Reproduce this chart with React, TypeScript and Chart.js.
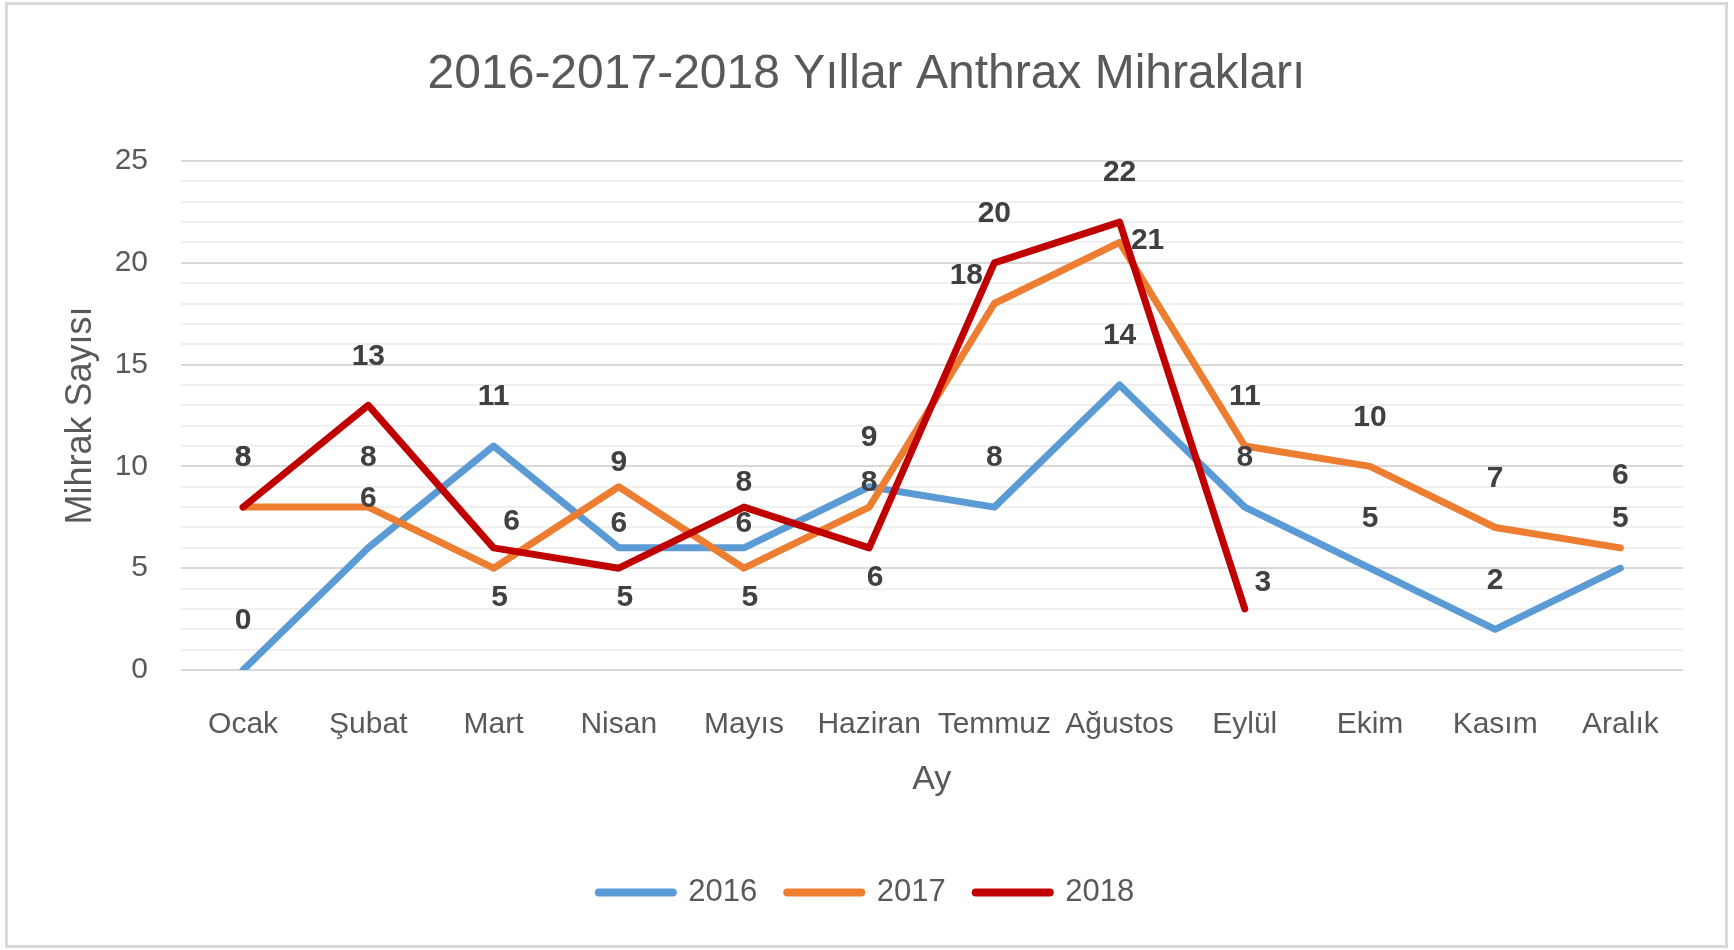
import React, { useEffect, useRef } from "react";
import { Chart, registerables } from "chart.js";

Chart.register(...registerables);

const FONT = "'Liberation Sans', Arial, sans-serif";

const months = ["Ocak", "Şubat", "Mart", "Nisan", "Mayıs", "Haziran", "Temmuz", "Ağustos", "Eylül", "Ekim", "Kasım", "Aralık"];
const values2016 = [0, 6, 11, 6, 6, 9, 8, 14, 8, 5, 2, 5];
const values2017 = [8, 8, 5, 9, 5, 8, 18, 21, 11, 10, 7, 6];
const values2018 = [8, 13, 6, 5, 8, 6, 20, 22, 3, null, null, null];
const seriesNames = ["2016", "2017", "2018"];
const seriesColors = ["#5B9BD5", "#ED7D31", "#C00000"];
const yTickLabels = [0, 5, 10, 15, 20, 25];

// data-label placement codes (T: above, t: just above, b: below, L: upper-left, R: right, r: upper-right, U: high above)
const labelPos2016 = ["T", "T", "T", "t", "t", "T", "T", "T", "T", "T", "T", "T"];
const labelPos2017 = ["T", "T", "b", "t", "b", "t", "L", "R", "T", "T", "T", "U"];
const labelPos2018 = ["T", "T", "r", "b", "t", "b", "T", "T", "r"];

const OFFSETS: Record<string, [number, number]> = {
  T: [0, -49],
  t: [0, -24],
  b: [6, 30],
  L: [-28, -28],
  R: [28, -2],
  r: [18, -26],
  U: [0, -72],
};

const placements = [labelPos2016, labelPos2017, labelPos2018];

const dataLabelPlugin = {
  id: "dataLabels",
  afterDatasetsDraw(chart: any) {
    const ctx = chart.ctx;
    ctx.save();
    ctx.font = `bold 30px ${FONT}`;
    ctx.fillStyle = "#404040";
    ctx.textAlign = "center";
    ctx.textBaseline = "middle";
    chart.data.datasets.forEach((ds: any, i: number) => {
      const meta = chart.getDatasetMeta(i);
      const pos = placements[i];
      meta.data.forEach((pt: any, j: number) => {
        const v = ds.data[j];
        if (v === null || v === undefined) return;
        const [dx, dy] = OFFSETS[pos[j]] || OFFSETS.T;
        ctx.fillText(String(v), pt.x + dx, pt.y + dy);
      });
    });
    ctx.restore();
  },
};

export default function App() {
  const canvasRef = useRef<HTMLCanvasElement | null>(null);

  useEffect(() => {
    if (!canvasRef.current) return;
    const seriesValues = [values2016, values2017, values2018];
    const defaultLabels = (Chart.defaults as any).plugins.legend.labels.generateLabels;
    const chart = new Chart(canvasRef.current, {
      type: "line",
      data: {
        labels: months,
        datasets: seriesNames.map((name, i) => ({
          label: name,
          data: seriesValues[i],
          borderColor: seriesColors[i],
          backgroundColor: seriesColors[i],
          borderWidth: 7,
          pointRadius: 0,
          pointHoverRadius: 0,
          borderCapStyle: "round",
          borderJoinStyle: "round",
          tension: 0,
          spanGaps: false,
          order: seriesNames.length - i,
        })),
      },
      options: {
        responsive: false,
        animation: false,
        events: [],
        layout: { padding: { left: 0, right: 0, top: 0, bottom: 27 } },
        plugins: {
          tooltip: { enabled: false },
          title: {
            display: true,
            text: "2016-2017-2018 Yıllar Anthrax Mihrakları",
            color: "#595959",
            font: { family: FONT, size: 48, weight: "normal" },
            padding: { top: 41, bottom: 57.4 },
          },
          legend: {
            position: "bottom",
            labels: {
              usePointStyle: true,
              pointStyle: "line",
              pointStyleWidth: 74,
              color: "#595959",
              font: { family: FONT, size: 31 },
              padding: 30,
              sort: (a: any, b: any) => a.datasetIndex - b.datasetIndex,
              generateLabels: (c: any) =>
                defaultLabels(c).map((l: any) => ({
                  ...l,
                  lineCap: "round",
                  lineWidth: 8,
                  strokeStyle: seriesColors[l.datasetIndex],
                })),
            },
          },
        },
        scales: {
          x: {
            offset: true,
            grid: { display: false },
            border: { display: false },
            ticks: {
              color: "#595959",
              font: { family: FONT, size: 30 },
              padding: 29,
              maxRotation: 0,
              autoSkip: false,
            },
            title: {
              display: true,
              text: "Ay",
              color: "#595959",
              font: { family: FONT, size: 34 },
              padding: { top: 0, bottom: 47.1 },
            },
            afterFit: (s: any) => {
              s.height = 177;
            },
          },
          y: {
            min: 0,
            max: 25,
            border: { display: false },
            grid: {
              drawTicks: false,
              lineWidth: 2,
              color: (c: any) =>
                c.tick && yTickLabels.includes(c.tick.value) ? "#d9d9d9" : "#f0f0f0",
            },
            ticks: {
              stepSize: 1,
              autoSkip: false,
              color: "#595959",
              font: { family: FONT, size: 30 },
              padding: 32.5,
              callback: (v: any) => (yTickLabels.includes(Number(v)) ? String(v) : ""),
            },
            title: {
              display: true,
              text: "Mihrak Sayısı",
              color: "#595959",
              font: { family: FONT, size: 36 },
              padding: { top: 51.9, bottom: 0 },
            },
            afterFit: (s: any) => {
              s.width = 172.5;
            },
          },
          y2: {
            position: "right",
            display: true,
            grid: { display: false },
            border: { display: false },
            ticks: { display: false },
            afterFit: (s: any) => {
              s.width = 42;
            },
          },
        },
      },
      plugins: [dataLabelPlugin],
    } as any);
    return () => chart.destroy();
  }, []);

  return (
    <div
      style={{
        position: "absolute",
        left: 5,
        top: 2,
        width: 1723,
        height: 946,
        border: "3px solid #d9d9d9",
        boxSizing: "border-box",
        background: "#ffffff",
      }}
    >
      <canvas ref={canvasRef} width={1717} height={940} style={{ display: "block" }} />
    </div>
  );
}
